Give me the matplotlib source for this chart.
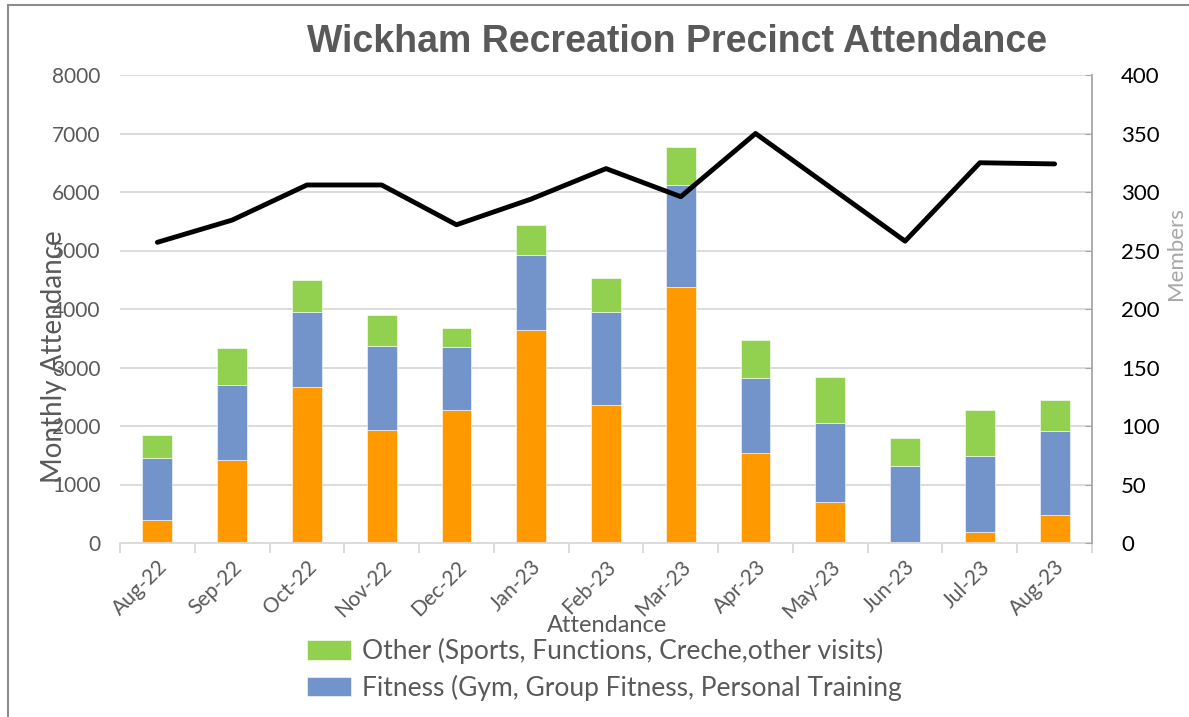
import numpy as np
import matplotlib
matplotlib.use("Agg")
import matplotlib.pyplot as plt
from matplotlib.lines import Line2D

plt.rcParams["font.family"] = ["Lato", "DejaVu Sans"]

MONTHS = ["Aug-22", "Sep-22", "Oct-22", "Nov-22", "Dec-22", "Jan-23", "Feb-23",
          "Mar-23", "Apr-23", "May-23", "Jun-23", "Jul-23", "Aug-23"]
AQUATICS = [386, 1424, 2667, 1937, 2279, 3641, 2359, 4381, 1538, 694, 20, 182, 472]
FITNESS = [1072, 1282, 1275, 1425, 1066, 1282, 1583, 1744, 1276, 1362, 1290, 1311, 1436]
OTHER = [393, 627, 559, 535, 330, 513, 593, 644, 661, 775, 490, 786, 542]
MEMBERS = [257, 276, 306, 306, 272, 294, 320, 296, 350, 304, 258, 325, 324]

ORANGE, BLUE, GREEN = "#FF9900", "#7393CB", "#92D050"
GRID = "#D9D9D9"
TXT = "#595959"

W, H = 1189, 717
fig = plt.figure(figsize=(W / 100, H / 100), dpi=100)
ax = fig.add_axes([120 / W, 1 - 543 / H, 972 / W, 468 / H])
ax2 = ax.twinx()

x = np.arange(len(MONTHS))
aq = np.array(AQUATICS); fi = np.array(FITNESS); ot = np.array(OTHER)
ax.bar(x, aq, 0.4, color=ORANGE, edgecolor="white", linewidth=0.4, zorder=2)
ax.bar(x, fi, 0.4, bottom=aq, color=BLUE, edgecolor="white", linewidth=0.4,
       zorder=2, label="Fitness (Gym, Group Fitness, Personal Training")
ax.bar(x, ot, 0.4, bottom=aq + fi, color=GREEN, edgecolor="white", linewidth=0.4,
       zorder=2, label="Other (Sports, Functions, Creche,other visits)")
ax2.plot(x, MEMBERS, color="black", lw=3.5, solid_capstyle="round", zorder=3)

ax.set_xlim(-0.5, len(MONTHS) - 0.5)
ax.set_ylim(0, 8000)
ax.set_yticks(range(0, 8001, 1000))
ax.yaxis.grid(True, color=GRID, lw=1.3, zorder=0)
ax.set_axisbelow(True)
ax2.set_ylim(0, 400)
ax2.set_yticks(range(0, 401, 50))

for s in ["top", "left", "right"]:
    ax.spines[s].set_visible(False)
ax.spines["bottom"].set_color(GRID)
ax.spines["bottom"].set_linewidth(1.3)
for s in ["top", "left", "bottom"]:
    ax2.spines[s].set_visible(False)
ax2.spines["right"].set_color("#A6A6A6")
ax2.spines["right"].set_linewidth(1.3)

ax.set_xticks(x)
ax.set_xticklabels(MONTHS, rotation=45, ha="right", rotation_mode="anchor",
                   fontsize=15, color=TXT)
ax.tick_params(axis="x", which="major", length=0, pad=10)
ax.set_xticks(np.arange(-0.5, len(MONTHS), 1), minor=True)
ax.tick_params(axis="x", which="minor", length=7, color=GRID, width=1.3)
ax.tick_params(axis="y", length=0, labelsize=15, labelcolor=TXT, pad=14)
ax2.tick_params(axis="y", direction="in", length=5, color="#A6A6A6",
                labelsize=16, labelcolor="black", pad=21)

fig.text(677 / W, 1 - 42 / H, "Wickham Recreation Precinct Attendance",
         ha="center", va="center", fontsize=27, fontweight="bold", color=TXT,
         family="Liberation Sans")
fig.text(54 / W, 1 - 357 / H, "Monthly Attendance", rotation=90,
         ha="center", va="center", fontsize=20, color=TXT)
fig.text(1176 / W, 1 - 254 / H, "Members", rotation=90,
         ha="center", va="center", fontsize=16, color="#A6A6A6")
fig.text(607 / W, 1 - 626 / H, "Attendance", ha="center", va="center",
         fontsize=17, color=TXT)

h, l = ax.get_legend_handles_labels()
leg = fig.legend(h[::-1], l[::-1], loc="upper left",
                 bbox_to_anchor=(307 / W, 1 - 638 / H), frameon=False,
                 fontsize=19, handlelength=1.65, handleheight=0.75,
                 handletextpad=0.45, labelspacing=0.4, borderpad=0,
                 borderaxespad=0)
for t in leg.get_texts():
    t.set_color(TXT)

fig.add_artist(Line2D([8 / W, 8 / W], [0, 1 - 5 / H], color="#8C8C8C", lw=1.5))
fig.add_artist(Line2D([8 / W, 1], [1 - 5 / H, 1 - 5 / H], color="#8C8C8C", lw=1.5))

fig.savefig("out.png", dpi=100)
